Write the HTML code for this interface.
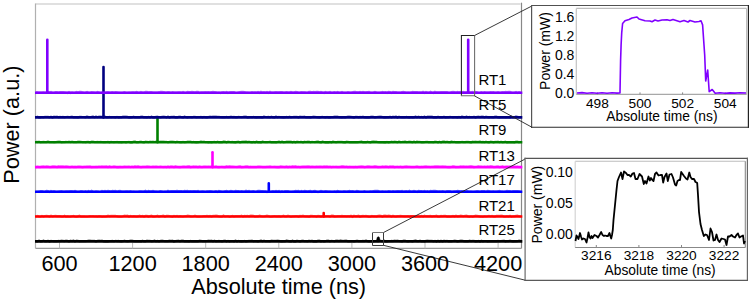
<!DOCTYPE html>
<html><head><meta charset="utf-8"><title>Power traces</title>
<style>
html,body{margin:0;padding:0;background:#fff;}
body{width:749px;height:300px;overflow:hidden;}
svg{display:block;font-family:"Liberation Sans", sans-serif;}
svg text{font-family:"Liberation Sans", sans-serif;fill:#000;}
</style></head><body>
<svg width="749" height="300" viewBox="0 0 749 300">
<rect width="749" height="300" fill="#fff"/>
<line x1="35.5" y1="4.0" x2="520.5" y2="4.0" stroke="#d6d6d6" stroke-width="1.6"/>
<line x1="35.5" y1="3.5" x2="35.5" y2="248.4" stroke="#b0b0b0" stroke-width="1.2"/>
<line x1="521.5" y1="2.7" x2="521.5" y2="248.4" stroke="#888" stroke-width="1.2"/>
<line x1="35.5" y1="248.4" x2="521.5" y2="248.4" stroke="#999" stroke-width="1.1"/>
<line x1="59.5" y1="242.5" x2="59.5" y2="248.4" stroke="#bbb" stroke-width="1"/>
<line x1="132.6" y1="242.5" x2="132.6" y2="248.4" stroke="#bbb" stroke-width="1"/>
<line x1="205.7" y1="242.5" x2="205.7" y2="248.4" stroke="#bbb" stroke-width="1"/>
<line x1="278.8" y1="242.5" x2="278.8" y2="248.4" stroke="#bbb" stroke-width="1"/>
<line x1="351.9" y1="242.5" x2="351.9" y2="248.4" stroke="#bbb" stroke-width="1"/>
<line x1="425" y1="242.5" x2="425" y2="248.4" stroke="#bbb" stroke-width="1"/>
<line x1="498.1" y1="242.5" x2="498.1" y2="248.4" stroke="#bbb" stroke-width="1"/>
<path d="M35,241.4 H522.3" stroke="#000000" stroke-width="2.6" fill="none"/>
<polyline points="36,241.35 37.5,241.58 39,240.52 40.5,241.63 42,241.49 43.5,240.57 45,241.47 46.5,241.47 48,240.73 49.5,241.67 51,240.94 52.5,241.04 54,241.28 55.5,241.33 57,241.4 58.5,240.83 60,241.08 61.5,240.66 63,240.83 64.5,241.09 66,240.59 67.5,240.92 69,241.48 70.5,240.71 72,241.02 73.5,240.54 75,241.39 76.5,240.62 78,240.72 79.5,241.39 81,241.03 82.5,241.16 84,241.23 85.5,241.1 87,241.01 88.5,240.68 90,240.67 91.5,240.74 93,240.79 94.5,240.89 96,241.57 97.5,240.76 99,240.66 100.5,240.82 102,240.66 103.5,241.49 105,241.64 106.5,241.42 108,241.64 109.5,241.16 111,241.04 112.5,240.96 114,241.28 115.5,240.79 117,241.13 118.5,240.97 120,241.3 121.5,241.55 123,241.29 124.5,240.67 126,241.21 127.5,241.38 129,241.15 130.5,240.58 132,240.61 133.5,241.15 135,241.36 136.5,241.09 138,241.37 139.5,241.16 141,241.49 142.5,240.76 144,241.5 145.5,241.4 147,240.64 148.5,240.77 150,240.85 151.5,241.44 153,241.27 154.5,240.58 156,241.38 157.5,240.87 159,241.54 160.5,240.83 162,240.62 163.5,240.9 165,241.05 166.5,241.02 168,241.14 169.5,240.63 171,240.83 172.5,240.55 174,241.68 175.5,241.08 177,240.84 178.5,240.7 180,241.23 181.5,240.51 183,240.69 184.5,241.3 186,241.13 187.5,241.35 189,241.52 190.5,240.89 192,241.42 193.5,241.47 195,241.49 196.5,241.14 198,241.42 199.5,240.54 201,240.73 202.5,241.19 204,241.17 205.5,241.23 207,241 208.5,240.56 210,240.88 211.5,240.74 213,241.3 214.5,240.78 216,241.41 217.5,241.14 219,240.97 220.5,241.24 222,241.57 223.5,240.9 225,240.57 226.5,241.53 228,240.85 229.5,241.57 231,241.07 232.5,240.99 234,241.51 235.5,240.64 237,241.54 238.5,240.83 240,241.43 241.5,241.65 243,241.51 244.5,240.9 246,241.66 247.5,241.13 249,240.86 250.5,240.94 252,240.6 253.5,241.26 255,241.03 256.5,241.18 258,241.56 259.5,241.04 261,240.53 262.5,241.22 264,240.6 265.5,241.22 267,241.15 268.5,241.04 270,241.29 271.5,240.61 273,240.93 274.5,240.75 276,240.76 277.5,240.64 279,240.77 280.5,241.53 282,241.67 283.5,241.24 285,241.43 286.5,240.52 288,240.91 289.5,241.37 291,241.59 292.5,240.56 294,241.69 295.5,241.67 297,240.61 298.5,240.98 300,241.6 301.5,240.91 303,240.7 304.5,241.2 306,241.25 307.5,241.43 309,240.77 310.5,241.1 312,240.73 313.5,241.63 315,241.59 316.5,241.64 318,240.66 319.5,240.71 321,241.48 322.5,241.06 324,241.52 325.5,241.27 327,240.54 328.5,240.64 330,241.37 331.5,240.83 333,240.98 334.5,241.24 336,240.56 337.5,240.62 339,241.09 340.5,240.52 342,240.91 343.5,240.97 345,240.62 346.5,240.6 348,241.42 349.5,241.32 351,241.09 352.5,241.04 354,241.6 355.5,241.06 357,240.71 358.5,241.11 360,241.09 361.5,241.16 363,240.92 364.5,241.1 366,240.55 367.5,241.31 369,241.57 370.5,241.38 372,241.51 373.5,241.67 375,241.09 376.5,241.01 378,241.39 379.5,240.76 381,240.87 382.5,241.22 384,240.54 385.5,241.67 387,241.62 388.5,241.11 390,241.25 391.5,240.91 393,241.05 394.5,240.61 396,240.92 397.5,240.73 399,240.98 400.5,241.29 402,241.53 403.5,240.6 405,240.66 406.5,241.25 408,241.63 409.5,241.17 411,241.12 412.5,241.53 414,240.75 415.5,240.5 417,241.11 418.5,241.21 420,240.65 421.5,241.32 423,241.24 424.5,241.5 426,240.9 427.5,240.58 429,240.77 430.5,240.78 432,240.9 433.5,241.28 435,240.83 436.5,241.68 438,240.7 439.5,241.55 441,240.79 442.5,241.61 444,240.77 445.5,241.16 447,240.8 448.5,241.36 450,241.23 451.5,241.38 453,240.98 454.5,240.69 456,240.89 457.5,241.53 459,241.1 460.5,240.71 462,240.59 463.5,241.13 465,241.5 466.5,241.31 468,241.44 469.5,240.58 471,241.03 472.5,240.86 474,240.78 475.5,241.63 477,241.53 478.5,240.92 480,241.69 481.5,240.75 483,241.5 484.5,241.05 486,241.02 487.5,241.69 489,241.45 490.5,241.33 492,241.29 493.5,241.27 495,241.49 496.5,241.34 498,240.92 499.5,241.22 501,241.01 502.5,240.74 504,240.6 505.5,241.6 507,241 508.5,241.12 510,240.69 511.5,241.15 513,241.57 514.5,241.34 516,241.29 517.5,241.18 519,240.51 520.5,240.51" stroke="#000000" stroke-width="2.2" fill="none" opacity="0.55"/>
<path d="M35,216.5 H522.3" stroke="#ff0000" stroke-width="2.6" fill="none"/>
<polyline points="36,216.65 37.5,216.02 39,216.55 40.5,216.74 42,215.97 43.5,216.52 45,216 46.5,215.8 48,216.02 49.5,216.5 51,215.78 52.5,216.39 54,216.02 55.5,215.8 57,216.12 58.5,216.06 60,216.15 61.5,216.66 63,216.7 64.5,215.87 66,216.79 67.5,216.33 69,216.75 70.5,216.58 72,216.23 73.5,215.9 75,216.72 76.5,216.8 78,216.35 79.5,215.74 81,216.59 82.5,216.52 84,216.66 85.5,216.77 87,216.77 88.5,216.48 90,216.07 91.5,216.24 93,216.21 94.5,216.51 96,216.35 97.5,216.59 99,216.22 100.5,216.31 102,216.76 103.5,216.55 105,216.72 106.5,216.44 108,215.75 109.5,216.1 111,215.95 112.5,215.92 114,215.75 115.5,215.73 117,216.18 118.5,216.54 120,216.64 121.5,216.76 123,216.3 124.5,215.62 126,215.83 127.5,215.67 129,216.64 130.5,215.98 132,216.47 133.5,216.14 135,216.3 136.5,216.62 138,216.39 139.5,215.69 141,216.36 142.5,216.03 144,216.77 145.5,215.92 147,215.89 148.5,216.71 150,216.1 151.5,215.7 153,216.56 154.5,216.7 156,216.19 157.5,215.8 159,216.64 160.5,216.01 162,215.89 163.5,215.65 165,216.66 166.5,215.88 168,215.74 169.5,216.04 171,216.44 172.5,216.8 174,215.85 175.5,216.34 177,215.92 178.5,216.63 180,216.18 181.5,216.42 183,216.61 184.5,216.24 186,216.17 187.5,215.61 189,215.8 190.5,216.43 192,216.51 193.5,216.29 195,215.66 196.5,216.5 198,216.62 199.5,216.63 201,216.5 202.5,216.4 204,216.02 205.5,216.03 207,215.83 208.5,216.37 210,216.01 211.5,216.57 213,215.88 214.5,215.92 216,215.7 217.5,215.94 219,216.53 220.5,216.59 222,216.7 223.5,215.64 225,216.42 226.5,216.27 228,216.02 229.5,216.73 231,216.42 232.5,215.98 234,216.6 235.5,216.13 237,216.16 238.5,216.17 240,216.17 241.5,215.63 243,216.58 244.5,215.96 246,216.14 247.5,215.81 249,216.28 250.5,215.68 252,215.64 253.5,215.85 255,216.65 256.5,216.42 258,216.47 259.5,215.71 261,216.14 262.5,216.48 264,216.49 265.5,216.14 267,215.69 268.5,216.06 270,216.74 271.5,216.67 273,216.34 274.5,216.02 276,216.32 277.5,216.29 279,216.15 280.5,216.62 282,216.28 283.5,215.72 285,216.48 286.5,216.44 288,215.72 289.5,216.23 291,216.77 292.5,216.38 294,216.41 295.5,216.17 297,216.11 298.5,216.78 300,215.94 301.5,216.16 303,215.71 304.5,216.22 306,216.4 307.5,216.43 309,216.77 310.5,215.92 312,215.85 313.5,216.03 315,216 316.5,216.7 318,215.85 319.5,216.17 321,216.8 322.5,216.09 324,216.15 325.5,216.1 327,215.99 328.5,215.98 330,216.6 331.5,215.62 333,215.68 334.5,216.57 336,216.47 337.5,216.11 339,216.18 340.5,216.17 342,215.91 343.5,216.12 345,216.03 346.5,216.31 348,216 349.5,216.31 351,215.65 352.5,216.79 354,215.62 355.5,216.17 357,216.05 358.5,215.76 360,216.77 361.5,216.14 363,215.82 364.5,215.99 366,215.83 367.5,216.25 369,216.8 370.5,216.76 372,215.88 373.5,216.45 375,216.28 376.5,216.52 378,215.79 379.5,215.65 381,215.75 382.5,216.69 384,215.66 385.5,215.65 387,216.16 388.5,215.67 390,215.81 391.5,216.74 393,215.82 394.5,216.51 396,216.61 397.5,216.15 399,216.13 400.5,215.85 402,215.99 403.5,216.24 405,216.28 406.5,216.24 408,216.04 409.5,216.66 411,216.15 412.5,216.06 414,216.17 415.5,216.61 417,216.32 418.5,216.49 420,216.59 421.5,216.03 423,216.47 424.5,215.72 426,216.18 427.5,216.15 429,216.07 430.5,215.8 432,216.56 433.5,216.01 435,216.07 436.5,215.74 438,216.64 439.5,216.64 441,215.82 442.5,216.07 444,215.94 445.5,215.83 447,216.6 448.5,216.34 450,216.69 451.5,216.43 453,216 454.5,216.54 456,215.73 457.5,216.31 459,216.22 460.5,215.69 462,215.94 463.5,216.22 465,215.75 466.5,215.7 468,216.34 469.5,216.77 471,216.3 472.5,216.8 474,216.18 475.5,215.72 477,215.8 478.5,216.15 480,216.65 481.5,216.58 483,216.77 484.5,216.31 486,216.51 487.5,216.26 489,215.8 490.5,216.25 492,215.93 493.5,216.57 495,216.58 496.5,215.87 498,215.76 499.5,215.95 501,215.62 502.5,215.83 504,216.75 505.5,216.71 507,216.12 508.5,216.66 510,215.83 511.5,216.8 513,216.28 514.5,216.34 516,215.93 517.5,215.61 519,216.25 520.5,216.35" stroke="#ff0000" stroke-width="2.2" fill="none" opacity="0.55"/>
<line x1="323.7" y1="216.5" x2="323.7" y2="213" stroke="#ff0000" stroke-width="2.6" stroke-linecap="round"/>
<path d="M35,191.7 H522.3" stroke="#0000ff" stroke-width="2.6" fill="none"/>
<polyline points="36,191.95 37.5,191.85 39,191.68 40.5,191.07 42,191.2 43.5,191.66 45,191.77 46.5,190.82 48,191 49.5,191.87 51,190.94 52.5,191.59 54,191.2 55.5,191.57 57,191.83 58.5,191.5 60,191.27 61.5,191.19 63,191.55 64.5,191.55 66,191.29 67.5,191.36 69,191.44 70.5,191.11 72,191.02 73.5,191.48 75,190.92 76.5,191.52 78,191.76 79.5,191.79 81,191.1 82.5,191.3 84,191.91 85.5,191.22 87,191.99 88.5,191.04 90,191.81 91.5,190.85 93,191.6 94.5,191.77 96,191.46 97.5,191.56 99,191.9 100.5,192 102,191.02 103.5,191.43 105,190.85 106.5,191.25 108,190.97 109.5,190.99 111,191.55 112.5,190.9 114,190.98 115.5,190.81 117,191.78 118.5,191.09 120,190.89 121.5,191.55 123,191.66 124.5,191.56 126,191.46 127.5,191.44 129,191.66 130.5,191.17 132,191.81 133.5,191.63 135,191.83 136.5,191.87 138,191.81 139.5,191.42 141,191.43 142.5,191.68 144,191.49 145.5,190.83 147,191.9 148.5,191.04 150,191.38 151.5,191.34 153,190.91 154.5,191.49 156,191.51 157.5,191.78 159,191.53 160.5,191.17 162,191.48 163.5,191.95 165,191.56 166.5,191.81 168,190.81 169.5,191.63 171,191.05 172.5,191 174,191.2 175.5,191.01 177,190.9 178.5,191.05 180,191.08 181.5,191.1 183,191.76 184.5,190.9 186,191.04 187.5,190.87 189,191.41 190.5,191.07 192,191.44 193.5,191.09 195,191.04 196.5,191.39 198,190.89 199.5,191.86 201,191.48 202.5,191.27 204,191.46 205.5,191.94 207,191.39 208.5,191.27 210,191.06 211.5,191.26 213,191.73 214.5,191.54 216,191.13 217.5,191.88 219,190.96 220.5,191.23 222,191.73 223.5,191.9 225,191.35 226.5,190.81 228,191.47 229.5,191.31 231,190.84 232.5,191.22 234,191.86 235.5,190.84 237,191.01 238.5,191 240,191.76 241.5,191.17 243,191.62 244.5,191.61 246,190.81 247.5,191.33 249,190.94 250.5,191.76 252,191.39 253.5,191.24 255,191.77 256.5,191.79 258,190.88 259.5,190.91 261,191.19 262.5,191.18 264,191.33 265.5,191.31 267,191.97 268.5,191.61 270,191.95 271.5,191.54 273,191.08 274.5,191.48 276,190.99 277.5,191.5 279,190.97 280.5,191.92 282,191.16 283.5,191.87 285,191.06 286.5,191.05 288,191.1 289.5,191.79 291,191.79 292.5,191.69 294,191.49 295.5,190.97 297,191.09 298.5,190.84 300,191.92 301.5,190.95 303,191.66 304.5,190.8 306,191.14 307.5,191.52 309,191.02 310.5,190.88 312,191.88 313.5,191.14 315,190.81 316.5,191.65 318,191.99 319.5,191.45 321,190.84 322.5,191.3 324,191.53 325.5,191.09 327,191.3 328.5,191.69 330,191.59 331.5,191.8 333,191.94 334.5,191.42 336,191.98 337.5,190.94 339,191.42 340.5,191.61 342,191.91 343.5,191.36 345,191.32 346.5,191.87 348,191.36 349.5,190.87 351,191.34 352.5,191.12 354,191.59 355.5,191.78 357,190.86 358.5,191.18 360,191.88 361.5,191.77 363,191.74 364.5,191.27 366,191.95 367.5,191.82 369,191.78 370.5,191.45 372,191.57 373.5,190.96 375,190.84 376.5,190.82 378,190.86 379.5,191.41 381,191.93 382.5,191.49 384,191.75 385.5,191.71 387,191.93 388.5,191.13 390,191.4 391.5,191.91 393,191.2 394.5,191.64 396,191.3 397.5,190.98 399,191.04 400.5,191.23 402,190.83 403.5,191.86 405,191.23 406.5,191.09 408,191.76 409.5,190.81 411,191.71 412.5,191.34 414,190.91 415.5,191.28 417,191.98 418.5,190.85 420,191.14 421.5,191.01 423,191.51 424.5,191.04 426,191.82 427.5,191.24 429,191.94 430.5,190.95 432,191.08 433.5,190.83 435,190.85 436.5,191.02 438,191.51 439.5,191.46 441,191.67 442.5,191.08 444,191.52 445.5,191.98 447,191.19 448.5,191.08 450,191.02 451.5,191.96 453,191.56 454.5,191.39 456,191.39 457.5,190.9 459,191.07 460.5,191.64 462,191.1 463.5,191.42 465,191.89 466.5,191.02 468,191.37 469.5,191.71 471,191.69 472.5,191.79 474,191.89 475.5,191.49 477,191.07 478.5,191.41 480,191.91 481.5,191.04 483,191.15 484.5,191.04 486,191.85 487.5,190.92 489,190.98 490.5,191.53 492,191.67 493.5,191.31 495,191.7 496.5,191.65 498,191.27 499.5,190.89 501,191.63 502.5,191.54 504,191.95 505.5,191.64 507,190.88 508.5,191.03 510,191.17 511.5,191.67 513,191.17 514.5,191.08 516,191.02 517.5,191.13 519,191.4 520.5,191.65" stroke="#0000ff" stroke-width="2.2" fill="none" opacity="0.55"/>
<line x1="268.8" y1="191.7" x2="268.8" y2="183.4" stroke="#0000ff" stroke-width="2.6" stroke-linecap="round"/>
<path d="M35,167.1 H522.3" stroke="#ff00ff" stroke-width="2.6" fill="none"/>
<polyline points="36,167.37 37.5,166.75 39,167.06 40.5,167.08 42,166.46 43.5,166.29 45,166.92 46.5,166.35 48,166.66 49.5,167.27 51,167.25 52.5,166.34 54,166.3 55.5,166.47 57,167.19 58.5,166.23 60,166.47 61.5,166.33 63,166.35 64.5,166.83 66,166.42 67.5,166.69 69,167.08 70.5,167.07 72,166.7 73.5,167.14 75,166.89 76.5,167.19 78,166.5 79.5,166.64 81,166.9 82.5,167.34 84,166.94 85.5,166.77 87,166.5 88.5,166.54 90,166.46 91.5,167.38 93,167.26 94.5,167.27 96,166.83 97.5,167.05 99,166.56 100.5,166.78 102,166.37 103.5,166.7 105,166.5 106.5,166.32 108,167.3 109.5,166.32 111,167.18 112.5,167.04 114,166.31 115.5,166.78 117,167.4 118.5,167.38 120,166.88 121.5,167.13 123,167.05 124.5,166.55 126,166.86 127.5,166.92 129,166.67 130.5,167.18 132,166.73 133.5,167.1 135,166.28 136.5,166.73 138,166.25 139.5,166.98 141,167.25 142.5,166.85 144,166.88 145.5,166.95 147,166.47 148.5,166.66 150,166.89 151.5,166.98 153,166.66 154.5,166.77 156,166.6 157.5,166.87 159,167.01 160.5,166.59 162,167.02 163.5,167.22 165,166.84 166.5,167.38 168,166.57 169.5,167.3 171,166.42 172.5,166.64 174,167.18 175.5,166.24 177,166.94 178.5,167.25 180,167.33 181.5,167.02 183,166.61 184.5,166.6 186,166.96 187.5,166.28 189,166.23 190.5,167.26 192,166.95 193.5,166.4 195,166.71 196.5,166.55 198,167.24 199.5,166.54 201,167.07 202.5,167.09 204,166.58 205.5,166.5 207,166.83 208.5,166.68 210,166.91 211.5,166.59 213,167.15 214.5,166.7 216,166.36 217.5,167.13 219,167.27 220.5,167.02 222,166.86 223.5,167.25 225,167.32 226.5,166.21 228,166.79 229.5,166.22 231,166.6 232.5,166.49 234,166.75 235.5,167.01 237,167.23 238.5,166.51 240,166.21 241.5,167.4 243,167.14 244.5,166.86 246,166.33 247.5,166.26 249,167.32 250.5,166.84 252,167.23 253.5,167.14 255,167.1 256.5,167.17 258,166.5 259.5,166.5 261,166.72 262.5,167.12 264,167.15 265.5,167.11 267,166.9 268.5,166.77 270,166.43 271.5,167 273,166.98 274.5,166.82 276,167.07 277.5,167.38 279,167.33 280.5,166.33 282,166.54 283.5,166.94 285,167.03 286.5,166.54 288,167.32 289.5,166.75 291,167.12 292.5,166.26 294,166.53 295.5,166.23 297,167.15 298.5,166.83 300,167.34 301.5,166.93 303,166.59 304.5,166.63 306,166.65 307.5,166.44 309,166.33 310.5,166.98 312,166.58 313.5,166.74 315,167.05 316.5,166.53 318,166.73 319.5,166.59 321,166.59 322.5,167 324,166.32 325.5,166.68 327,166.33 328.5,167 330,166.56 331.5,167.36 333,166.78 334.5,166.99 336,166.83 337.5,167.18 339,167.04 340.5,166.97 342,166.24 343.5,166.37 345,167.1 346.5,166.69 348,167.37 349.5,166.96 351,167.19 352.5,167.09 354,167.36 355.5,166.99 357,167.33 358.5,166.71 360,166.52 361.5,166.33 363,166.5 364.5,167.27 366,166.99 367.5,166.25 369,166.23 370.5,166.75 372,166.85 373.5,166.63 375,166.22 376.5,166.51 378,167.25 379.5,167.07 381,167.18 382.5,166.52 384,167 385.5,166.44 387,166.56 388.5,167.35 390,166.46 391.5,166.55 393,166.46 394.5,167.24 396,167.02 397.5,166.91 399,167.22 400.5,166.76 402,167.3 403.5,167.13 405,166.56 406.5,166.48 408,166.84 409.5,166.74 411,167.15 412.5,166.98 414,167.09 415.5,166.92 417,166.52 418.5,167.09 420,167.38 421.5,166.96 423,167.05 424.5,166.48 426,166.34 427.5,166.74 429,166.91 430.5,167.07 432,166.77 433.5,166.85 435,166.31 436.5,166.26 438,166.35 439.5,166.58 441,166.49 442.5,166.37 444,166.61 445.5,166.6 447,167.19 448.5,167.32 450,167.39 451.5,167.08 453,166.21 454.5,166.49 456,167.4 457.5,167.04 459,167.23 460.5,166.44 462,166.49 463.5,166.32 465,166.83 466.5,166.64 468,166.76 469.5,166.37 471,166.23 472.5,166.66 474,167.31 475.5,166.98 477,166.89 478.5,166.28 480,166.72 481.5,166.64 483,166.96 484.5,166.68 486,167.16 487.5,166.53 489,167.07 490.5,166.21 492,166.38 493.5,167.16 495,167.22 496.5,166.56 498,166.44 499.5,167.35 501,166.91 502.5,166.31 504,167.39 505.5,166.88 507,166.56 508.5,166.81 510,166.64 511.5,166.89 513,166.7 514.5,166.65 516,167.08 517.5,166.57 519,167.2 520.5,167.1" stroke="#ff00ff" stroke-width="2.2" fill="none" opacity="0.55"/>
<line x1="212.5" y1="167.1" x2="212.5" y2="152.2" stroke="#ff00ff" stroke-width="2.6" stroke-linecap="round"/>
<path d="M35,142.3 H522.3" stroke="#008000" stroke-width="2.6" fill="none"/>
<polyline points="36,141.58 37.5,142.14 39,141.6 40.5,142.26 42,142.13 43.5,141.86 45,142.14 46.5,142.08 48,141.45 49.5,142.04 51,142.14 52.5,142.02 54,142.46 55.5,142.28 57,141.85 58.5,141.67 60,141.55 61.5,142.37 63,142.23 64.5,142.13 66,141.93 67.5,142 69,141.67 70.5,142.04 72,141.57 73.5,142.15 75,142.16 76.5,142.2 78,141.7 79.5,141.51 81,141.8 82.5,142.23 84,142.01 85.5,142.3 87,141.92 88.5,141.88 90,142.49 91.5,141.6 93,141.65 94.5,142.11 96,142.16 97.5,141.92 99,142.07 100.5,141.93 102,142.2 103.5,142.47 105,142.39 106.5,142.17 108,141.96 109.5,142.54 111,141.94 112.5,142.15 114,142.44 115.5,142.22 117,141.87 118.5,142.29 120,142.12 121.5,142.5 123,142.15 124.5,142.04 126,142.57 127.5,142.03 129,141.88 130.5,142.53 132,142.53 133.5,141.61 135,141.49 136.5,142.43 138,142.46 139.5,141.86 141,141.71 142.5,142.22 144,142.53 145.5,141.66 147,141.94 148.5,142.2 150,141.66 151.5,141.9 153,141.57 154.5,141.98 156,141.68 157.5,141.5 159,141.87 160.5,141.58 162,141.54 163.5,141.58 165,141.9 166.5,141.78 168,142.27 169.5,141.9 171,141.69 172.5,141.63 174,141.76 175.5,142.29 177,141.64 178.5,141.96 180,142.37 181.5,142.4 183,141.95 184.5,142.41 186,142.17 187.5,141.67 189,141.51 190.5,141.6 192,142.35 193.5,141.87 195,142.4 196.5,142.56 198,142.5 199.5,141.96 201,141.41 202.5,141.73 204,141.66 205.5,142.18 207,142.24 208.5,142.51 210,142.25 211.5,142.55 213,142.17 214.5,141.97 216,142.4 217.5,141.73 219,142.33 220.5,142.27 222,142.44 223.5,141.47 225,141.63 226.5,142.54 228,141.57 229.5,141.94 231,142.12 232.5,141.98 234,142.46 235.5,142.55 237,141.81 238.5,141.56 240,142.5 241.5,141.94 243,141.7 244.5,141.57 246,141.41 247.5,142.1 249,141.74 250.5,142.07 252,142.51 253.5,141.98 255,142.54 256.5,141.48 258,142.31 259.5,142.31 261,142.55 262.5,141.44 264,142.01 265.5,142.07 267,142.12 268.5,141.97 270,141.73 271.5,142.48 273,142.45 274.5,142.24 276,142.55 277.5,142.06 279,141.5 280.5,142.23 282,141.53 283.5,142.3 285,142.18 286.5,141.65 288,141.58 289.5,141.48 291,141.61 292.5,142.57 294,141.67 295.5,142.46 297,141.56 298.5,141.81 300,141.97 301.5,141.83 303,142.56 304.5,141.69 306,141.98 307.5,141.65 309,141.53 310.5,142.23 312,141.81 313.5,141.98 315,142.23 316.5,141.51 318,141.47 319.5,142.23 321,142.59 322.5,141.42 324,141.94 325.5,142.59 327,142.4 328.5,142.59 330,142.04 331.5,142.57 333,141.47 334.5,141.97 336,142.42 337.5,141.87 339,141.93 340.5,141.94 342,141.86 343.5,142.38 345,142.57 346.5,141.68 348,141.79 349.5,142.36 351,142.29 352.5,142.38 354,142.22 355.5,142.5 357,142.41 358.5,142.16 360,141.74 361.5,141.5 363,142.43 364.5,142.43 366,142.47 367.5,141.72 369,142.29 370.5,142.52 372,141.65 373.5,141.43 375,141.61 376.5,141.66 378,142.22 379.5,142.39 381,142.38 382.5,142.23 384,142.57 385.5,142.57 387,141.93 388.5,142.51 390,142.26 391.5,141.69 393,142.1 394.5,141.6 396,141.88 397.5,142.38 399,141.41 400.5,142.04 402,141.92 403.5,141.74 405,141.48 406.5,142.03 408,141.8 409.5,141.52 411,141.88 412.5,142.22 414,141.5 415.5,142.34 417,141.5 418.5,141.96 420,141.84 421.5,142.43 423,142.47 424.5,142.28 426,141.75 427.5,141.79 429,142.39 430.5,142.01 432,142.16 433.5,142.27 435,141.63 436.5,141.86 438,142.55 439.5,141.8 441,142.42 442.5,141.59 444,141.42 445.5,142 447,141.74 448.5,142.11 450,142.32 451.5,141.45 453,142 454.5,141.85 456,142.49 457.5,142.41 459,142.46 460.5,142.29 462,141.82 463.5,142.14 465,142.05 466.5,141.84 468,141.75 469.5,142.18 471,142.48 472.5,141.69 474,141.83 475.5,141.59 477,141.84 478.5,141.87 480,141.51 481.5,142.17 483,141.81 484.5,142.37 486,141.69 487.5,142.28 489,142.58 490.5,141.6 492,141.84 493.5,142.57 495,141.88 496.5,141.79 498,141.58 499.5,142.4 501,141.79 502.5,142.46 504,142.07 505.5,141.62 507,142.59 508.5,142.48 510,142.3 511.5,142.12 513,142.3 514.5,142.54 516,141.64 517.5,141.69 519,142.31 520.5,141.9" stroke="#008000" stroke-width="2.2" fill="none" opacity="0.55"/>
<line x1="157.5" y1="142.3" x2="157.5" y2="118.5" stroke="#008000" stroke-width="2.6" stroke-linecap="round"/>
<path d="M35,117.4 H522.3" stroke="#000080" stroke-width="2.6" fill="none"/>
<polyline points="36,117.2 37.5,116.73 39,117.66 40.5,117.61 42,117.06 43.5,117.3 45,116.76 46.5,116.77 48,116.85 49.5,117.33 51,116.75 52.5,117.67 54,116.58 55.5,116.73 57,116.61 58.5,117.42 60,116.94 61.5,117.07 63,116.89 64.5,117.26 66,116.98 67.5,116.75 69,117.02 70.5,116.87 72,116.63 73.5,117.49 75,117.32 76.5,117.3 78,117.56 79.5,116.97 81,116.96 82.5,117.01 84,116.99 85.5,117.3 87,116.51 88.5,117.06 90,117.14 91.5,116.91 93,116.53 94.5,117.35 96,116.51 97.5,117.18 99,116.68 100.5,116.54 102,116.72 103.5,116.58 105,116.68 106.5,117.32 108,117.37 109.5,116.94 111,117.28 112.5,117.07 114,117.1 115.5,117.55 117,116.87 118.5,117.54 120,117.33 121.5,117.32 123,116.51 124.5,116.6 126,116.54 127.5,116.91 129,117.64 130.5,117.55 132,117.51 133.5,116.64 135,117.35 136.5,117.43 138,117.47 139.5,117.45 141,116.67 142.5,116.71 144,117.45 145.5,117.39 147,117.57 148.5,117.04 150,117.57 151.5,116.67 153,117.65 154.5,117.56 156,116.91 157.5,116.58 159,117.16 160.5,117.33 162,116.92 163.5,116.57 165,116.83 166.5,117.49 168,116.61 169.5,117.62 171,116.8 172.5,116.75 174,116.63 175.5,117.68 177,117.58 178.5,116.88 180,116.61 181.5,117.28 183,117.57 184.5,116.51 186,117.26 187.5,117.53 189,117.05 190.5,117.18 192,117.47 193.5,116.79 195,116.83 196.5,117.29 198,117.16 199.5,117.14 201,116.9 202.5,117.62 204,116.85 205.5,117.31 207,117.57 208.5,116.98 210,116.57 211.5,116.76 213,116.58 214.5,116.68 216,116.64 217.5,116.91 219,116.94 220.5,117.04 222,117.3 223.5,117.31 225,117.32 226.5,116.94 228,117.3 229.5,117.16 231,116.65 232.5,117.16 234,116.88 235.5,117.31 237,117.38 238.5,116.79 240,117.02 241.5,117.05 243,116.86 244.5,116.55 246,116.56 247.5,117.69 249,117.39 250.5,117.03 252,117.3 253.5,116.82 255,117.35 256.5,117.64 258,117.43 259.5,117.06 261,117.68 262.5,117.61 264,116.57 265.5,116.99 267,117.04 268.5,116.83 270,117.24 271.5,116.67 273,117.4 274.5,117.53 276,116.57 277.5,117.33 279,116.82 280.5,117.27 282,117.33 283.5,117.67 285,117.46 286.5,116.91 288,117.38 289.5,116.68 291,117.36 292.5,117 294,116.82 295.5,116.79 297,116.76 298.5,117.46 300,116.62 301.5,116.78 303,116.73 304.5,116.69 306,117.38 307.5,117.2 309,117.3 310.5,117.58 312,117.04 313.5,116.55 315,116.73 316.5,117.12 318,117.36 319.5,117.6 321,117.11 322.5,116.77 324,117.21 325.5,117.62 327,116.9 328.5,117.62 330,117.58 331.5,117.19 333,117.08 334.5,116.65 336,116.63 337.5,116.55 339,117.23 340.5,117.36 342,117.69 343.5,117.22 345,117.69 346.5,116.98 348,116.66 349.5,116.57 351,116.85 352.5,117.14 354,117.68 355.5,116.86 357,116.78 358.5,117.37 360,116.97 361.5,117.17 363,116.68 364.5,117.52 366,117.6 367.5,117.41 369,117.62 370.5,116.9 372,116.54 373.5,116.87 375,117.58 376.5,117.06 378,116.74 379.5,116.68 381,116.7 382.5,117.03 384,117.61 385.5,117.56 387,117.41 388.5,117.41 390,116.73 391.5,117.43 393,116.77 394.5,117.13 396,116.54 397.5,117.57 399,116.65 400.5,117.21 402,117.29 403.5,117.27 405,117.32 406.5,116.94 408,117.45 409.5,117.63 411,117.24 412.5,117.68 414,117.52 415.5,116.57 417,117.31 418.5,116.61 420,117.29 421.5,116.95 423,117.53 424.5,116.55 426,117.64 427.5,116.55 429,116.57 430.5,116.5 432,116.65 433.5,117.68 435,117.5 436.5,117.6 438,116.72 439.5,117.33 441,117.45 442.5,117.37 444,116.82 445.5,117.67 447,117.37 448.5,117.32 450,116.84 451.5,116.98 453,117.41 454.5,117.12 456,117.09 457.5,117.6 459,117 460.5,117.53 462,116.56 463.5,117.14 465,117.36 466.5,116.51 468,117.34 469.5,116.84 471,117.25 472.5,117.25 474,116.66 475.5,117.63 477,116.79 478.5,116.66 480,117.03 481.5,116.58 483,116.62 484.5,117.41 486,116.62 487.5,117.15 489,117.56 490.5,117.04 492,117.48 493.5,117.5 495,116.7 496.5,116.59 498,117.44 499.5,117.54 501,117.52 502.5,117.36 504,117.11 505.5,117.65 507,117.39 508.5,117.42 510,117.59 511.5,116.57 513,117.39 514.5,117.2 516,116.52 517.5,116.81 519,117.36 520.5,117.13" stroke="#000080" stroke-width="2.2" fill="none" opacity="0.55"/>
<line x1="103.5" y1="117.4" x2="103.5" y2="67.1" stroke="#000080" stroke-width="2.6" stroke-linecap="round"/>
<path d="M35,92.7 H522.3" stroke="#8000ff" stroke-width="2.6" fill="none"/>
<polyline points="36,91.97 37.5,92.35 39,92.72 40.5,92.65 42,92.68 43.5,92.32 45,92.76 46.5,92.44 48,91.9 49.5,92.35 51,91.86 52.5,92.92 54,92.94 55.5,92.2 57,92.17 58.5,92.72 60,92.04 61.5,92.01 63,92.03 64.5,92.22 66,92.55 67.5,92.96 69,92.05 70.5,92.95 72,92.47 73.5,92.88 75,92.78 76.5,91.99 78,92.58 79.5,91.95 81,91.81 82.5,92.27 84,92.73 85.5,92.48 87,92.03 88.5,92.81 90,92.9 91.5,92.08 93,92.34 94.5,92.57 96,92.88 97.5,91.95 99,92.46 100.5,92.96 102,92.53 103.5,92.66 105,92.73 106.5,92.41 108,92.15 109.5,92.51 111,92.43 112.5,92.21 114,92.83 115.5,92.24 117,92.38 118.5,92.71 120,92.78 121.5,92.87 123,92.58 124.5,92.1 126,92.82 127.5,92.89 129,92.66 130.5,92.72 132,92.42 133.5,92.39 135,92.5 136.5,91.98 138,92.61 139.5,92.83 141,92 142.5,92.7 144,92.65 145.5,91.95 147,91.86 148.5,92.51 150,92.06 151.5,92.17 153,92.55 154.5,92.58 156,92.7 157.5,92.48 159,92.2 160.5,91.82 162,91.94 163.5,92.03 165,92.43 166.5,92.66 168,92.05 169.5,92.27 171,92.92 172.5,92.28 174,92.66 175.5,92.54 177,92.59 178.5,92.37 180,92.45 181.5,92.64 183,91.99 184.5,92.76 186,92.85 187.5,91.86 189,92.04 190.5,92.1 192,91.91 193.5,91.97 195,92.57 196.5,91.95 198,91.88 199.5,92.93 201,92.28 202.5,92.45 204,92.37 205.5,92.21 207,92.35 208.5,92.03 210,92.5 211.5,92.1 213,91.97 214.5,92.05 216,92.3 217.5,92.92 219,92.52 220.5,92.98 222,92.28 223.5,92.11 225,92.65 226.5,92.03 228,93 229.5,92.27 231,92.13 232.5,92.13 234,92.17 235.5,92.92 237,92.99 238.5,92.47 240,92.08 241.5,91.81 243,91.9 244.5,92.16 246,92.57 247.5,92.55 249,92.82 250.5,92.79 252,92.22 253.5,92.61 255,92.33 256.5,92.67 258,92.02 259.5,92.97 261,91.83 262.5,92.54 264,92.22 265.5,92.76 267,91.97 268.5,92.87 270,91.8 271.5,92.68 273,92.64 274.5,92.41 276,92.01 277.5,92.26 279,92.34 280.5,92.06 282,91.99 283.5,92.81 285,92.46 286.5,92.12 288,92.55 289.5,92.56 291,91.96 292.5,92.5 294,92.5 295.5,91.93 297,92.16 298.5,92.84 300,92.49 301.5,92.07 303,92.27 304.5,92.35 306,92.65 307.5,92.83 309,91.9 310.5,91.86 312,92.33 313.5,91.82 315,91.99 316.5,91.93 318,91.91 319.5,92.55 321,91.91 322.5,92.48 324,92.96 325.5,91.97 327,92.71 328.5,92.5 330,92 331.5,92.94 333,92.68 334.5,92.26 336,92.87 337.5,91.92 339,92.8 340.5,92.81 342,91.94 343.5,92.9 345,92.74 346.5,92.9 348,92.14 349.5,92.69 351,92.74 352.5,92.22 354,91.84 355.5,91.82 357,92.41 358.5,92.46 360,91.95 361.5,92.56 363,91.86 364.5,92.37 366,92.41 367.5,92.04 369,91.86 370.5,92.88 372,92.82 373.5,92.51 375,91.84 376.5,92.43 378,92.96 379.5,92.72 381,92.63 382.5,91.85 384,92.49 385.5,92.08 387,92.98 388.5,91.81 390,92.07 391.5,92.86 393,91.94 394.5,92.16 396,92.17 397.5,92.86 399,92.64 400.5,92.92 402,92.03 403.5,91.91 405,92.21 406.5,92.72 408,92.54 409.5,92.92 411,92.66 412.5,91.9 414,92.18 415.5,92.04 417,92.12 418.5,92.6 420,92.33 421.5,92.71 423,91.82 424.5,92.89 426,91.99 427.5,92.69 429,92.81 430.5,91.85 432,92.45 433.5,92.97 435,91.81 436.5,92.4 438,92.31 439.5,92.26 441,92.03 442.5,92.02 444,92.12 445.5,92.06 447,92.15 448.5,92.88 450,92.94 451.5,92.11 453,91.83 454.5,92.12 456,92.83 457.5,92.01 459,92.59 460.5,91.91 462,92.22 463.5,92 465,92.54 466.5,92.24 468,92.73 469.5,92.42 471,92.28 472.5,91.83 474,92.81 475.5,91.85 477,92.4 478.5,92.99 480,92.75 481.5,92.23 483,92.92 484.5,92.11 486,92.5 487.5,92.49 489,92.67 490.5,92.15 492,92.28 493.5,92.19 495,92.9 496.5,92.69 498,92.21 499.5,92.73 501,92.54 502.5,92.1 504,92.4 505.5,91.92 507,92.05 508.5,91.89 510,91.9 511.5,92.54 513,92.8 514.5,92.8 516,92.06 517.5,92.94 519,92.2 520.5,92.63" stroke="#8000ff" stroke-width="2.2" fill="none" opacity="0.55"/>
<line x1="47.3" y1="92.7" x2="47.3" y2="39.7" stroke="#8000ff" stroke-width="2.6" stroke-linecap="round"/>
<line x1="468.2" y1="92.7" x2="468.2" y2="39.7" stroke="#8000ff" stroke-width="2.6" stroke-linecap="round"/>
<path d="M375.5,241.4 C376.9,240.8 377.0,237.8 377.4,237.2 Q378.3,236.4 379.2,237.2 C379.6,237.8 379.7,240.8 381.1,241.4 Z" fill="#000" stroke="#000" stroke-width="0.6" stroke-linejoin="round"/>
<path d="M474.6,35.5 H461.4 V95.8" fill="none" stroke="#222" stroke-width="1.05"/>
<path d="M474.6,35 V95.8 H461" fill="none" stroke="#6a6a6a" stroke-width="1.05"/>
<path d="M372.5,232.5 V245.5 H383.5 V232.5" fill="none" stroke="#3a3a3a" stroke-width="1"/>
<path d="M373,232.5 H383" fill="none" stroke="#777" stroke-width="1"/>
<line x1="474.5" y1="35.5" x2="531.5" y2="6.2" stroke="#222" stroke-width="0.9"/>
<line x1="474.5" y1="95.9" x2="531.5" y2="127" stroke="#222" stroke-width="0.9"/>
<line x1="383.5" y1="232.5" x2="525.2" y2="159" stroke="#222" stroke-width="0.9"/>
<line x1="383.5" y1="245.3" x2="525.2" y2="280.2" stroke="#222" stroke-width="0.9"/>
<text x="59.5" y="271.2" font-size="21.7" text-anchor="middle">600</text>
<text x="132.6" y="271.2" font-size="21.7" text-anchor="middle">1200</text>
<text x="205.7" y="271.2" font-size="21.7" text-anchor="middle">1800</text>
<text x="278.8" y="271.2" font-size="21.7" text-anchor="middle">2400</text>
<text x="351.9" y="271.2" font-size="21.7" text-anchor="middle">3000</text>
<text x="425" y="271.2" font-size="21.7" text-anchor="middle">3600</text>
<text x="498.1" y="271.2" font-size="21.7" text-anchor="middle">4200</text>
<text x="278.7" y="293.6" font-size="21.7" text-anchor="middle">Absolute time (ns)</text>
<text transform="translate(18.8,124.6) rotate(-90)" font-size="21.7" text-anchor="middle">Power (a.u.)</text>
<text x="478.4" y="84.6" font-size="15">RT1</text>
<text x="478.4" y="110.2" font-size="15">RT5</text>
<text x="478.4" y="135" font-size="15">RT9</text>
<text x="478.4" y="160.6" font-size="15">RT13</text>
<text x="478.4" y="184.8" font-size="15">RT17</text>
<text x="478.4" y="210.6" font-size="15">RT21</text>
<text x="478.4" y="235.4" font-size="15">RT25</text>
<rect x="531.6" y="5.5" width="216.8" height="121.75" fill="#fff"/>
<line x1="531" y1="5.5" x2="749" y2="5.5" stroke="#505050" stroke-width="1.2"/>
<line x1="531.6" y1="5" x2="531.6" y2="127.8" stroke="#555" stroke-width="1.2"/>
<line x1="748.4" y1="5" x2="748.4" y2="127.8" stroke="#222" stroke-width="1.2"/>
<line x1="531" y1="127.25" x2="749" y2="127.25" stroke="#2a2a2a" stroke-width="1.2"/>
<line x1="576.3" y1="8.4" x2="746.6" y2="8.4" stroke="#bdbdbd" stroke-width="1.2"/>
<line x1="746.6" y1="8.4" x2="746.6" y2="94.4" stroke="#bdbdbd" stroke-width="1.2"/>
<line x1="576.3" y1="8.4" x2="576.3" y2="94.4" stroke="#c2c2c2" stroke-width="1.2"/>
<line x1="576.3" y1="94.4" x2="746.6" y2="94.4" stroke="#a8a8a8" stroke-width="1.3"/>
<line x1="597.4" y1="92.4" x2="597.4" y2="94.4" stroke="#888" stroke-width="1"/>
<text x="597.4" y="107.6" font-size="13.7" text-anchor="middle">498</text>
<line x1="640.0" y1="92.4" x2="640.0" y2="94.4" stroke="#888" stroke-width="1"/>
<text x="640.0" y="107.6" font-size="13.7" text-anchor="middle">500</text>
<line x1="682.6" y1="92.4" x2="682.6" y2="94.4" stroke="#888" stroke-width="1"/>
<text x="682.6" y="107.6" font-size="13.7" text-anchor="middle">502</text>
<line x1="725.2" y1="92.4" x2="725.2" y2="94.4" stroke="#888" stroke-width="1"/>
<text x="725.2" y="107.6" font-size="13.7" text-anchor="middle">504</text>
<text x="574.4" y="21.8" font-size="14" text-anchor="end">1.6</text>
<text x="574.4" y="40.85" font-size="14" text-anchor="end">1.2</text>
<text x="574.4" y="59.9" font-size="14" text-anchor="end">0.8</text>
<text x="574.4" y="78.95" font-size="14" text-anchor="end">0.4</text>
<text x="574.4" y="98" font-size="14" text-anchor="end">0.0</text>
<text x="661.9" y="120.8" font-size="13.8" text-anchor="middle">Absolute time (ns)</text>
<text transform="translate(549.9,51.0) rotate(-90)" font-size="14" text-anchor="middle">Power (mW)</text>
<polyline points="577,93 582,92.6 587,93.3 592,92.8 597,93.2 602,92.7 607,93.3 612,92.8 617,93.1 620,93 620.6,60 621.1,45 621.7,33 622.6,23.5 625,20.8 629,19.5 632,18 637,17 639,19 645,20.8 650,21 652,21.7 655,20 658,21 662,20 667,19.7 670,20.5 673,19.5 680,21.7 684,20.5 688,22 690,20.5 695,22 699,21.5 701,20.8 702.6,24.9 704,45 704.7,55 705.7,81 707.7,70 709.2,91.7 712.2,89.5 715.2,93.2 720,92.8 725,93.2 730,92.9 735,93.1 740,92.8 746,93" fill="none" stroke="#8000ff" stroke-width="1.6" stroke-linejoin="round"/>
<rect x="525.1" y="158.3" width="222.3" height="122.1" fill="#fff"/>
<line x1="524.5" y1="158.3" x2="748" y2="158.3" stroke="#555" stroke-width="1.2"/>
<line x1="525.1" y1="157.7" x2="525.1" y2="281" stroke="#6a6a6a" stroke-width="1.2"/>
<line x1="747.4" y1="157.7" x2="747.4" y2="281" stroke="#666" stroke-width="1.2"/>
<line x1="524.5" y1="280.4" x2="748" y2="280.4" stroke="#5a5a5a" stroke-width="1.2"/>
<line x1="575.2" y1="161.25" x2="745.3" y2="161.25" stroke="#bdbdbd" stroke-width="1.2"/>
<line x1="745.3" y1="161.25" x2="745.3" y2="247.4" stroke="#8a8a8a" stroke-width="1.1"/>
<line x1="575.2" y1="161.25" x2="575.2" y2="247.4" stroke="#d4d4d4" stroke-width="1.2"/>
<line x1="575.2" y1="247.4" x2="745.3" y2="247.4" stroke="#888" stroke-width="1.05"/>
<line x1="596.3" y1="245" x2="596.3" y2="247.4" stroke="#888" stroke-width="1"/>
<text x="596.3" y="260.1" font-size="13.7" text-anchor="middle">3216</text>
<line x1="638.9" y1="245" x2="638.9" y2="247.4" stroke="#888" stroke-width="1"/>
<text x="638.9" y="260.1" font-size="13.7" text-anchor="middle">3218</text>
<line x1="681.5" y1="245" x2="681.5" y2="247.4" stroke="#888" stroke-width="1"/>
<text x="681.5" y="260.1" font-size="13.7" text-anchor="middle">3220</text>
<line x1="724.1" y1="245" x2="724.1" y2="247.4" stroke="#888" stroke-width="1"/>
<text x="724.1" y="260.1" font-size="13.7" text-anchor="middle">3222</text>
<text x="572.9" y="177" font-size="14" text-anchor="end">0.10</text>
<text x="572.9" y="208" font-size="14" text-anchor="end">0.05</text>
<text x="572.9" y="239.1" font-size="14" text-anchor="end">0.00</text>
<text x="660.1" y="274.8" font-size="13.8" text-anchor="middle">Absolute time (ns)</text>
<text transform="translate(541.5,204.6) rotate(-90)" font-size="14" text-anchor="middle">Power (mW)</text>
<polyline points="575.5,241 576.5,235.5 577.5,237 578.5,239 580,233 581,236.5 582,239.5 583.5,238.5 585,239 586.5,242.5 587.5,238 588.5,232.5 589.5,237 590.5,238.5 591.5,236 592.5,238 593.5,236.5 594.5,235 595.5,235.5 596.5,236 598,237.5 599.5,235 601.2,232 602.5,235 604,236 605,235.5 606.5,236 608,236 609.5,233 610.5,236.5 611.2,238.5 612,235 612.8,230 613.5,220 615.5,200 616.5,190 617.5,181 619,177 621,172.5 622.5,179 624,171.5 626,173 627.5,175 629,175 630.8,176.5 632.5,173.5 634,173 635.5,179 637.5,179 639.5,174 642,176.5 643.8,184 645,181 646.5,183.5 648.5,176.5 649.8,180.5 651,178 652,179.5 653.5,181 655,174 656.5,172.5 658.5,175.5 660.5,175 662,175 663.2,182.5 664.5,177 666.5,173.5 667.8,181 669.5,174.5 671.5,174 673,177.5 675,184.5 676.2,185.5 677.5,181 679,180 680,180 681.2,172 684,176 686,178.5 687.5,179.5 689.3,172.5 690.5,177 692,179 694,179 695.5,182 696.5,182.5 697.2,183 698,195 699,212 700.5,224 702,230 703.8,236 705.5,234.5 707,235 709,240 710.5,228.5 712,232 713.5,240.5 715,240 716.5,234.5 718,240 719.5,242 721.5,238.5 723.5,239 725,239.5 726.5,245 728,236.5 729.5,236.5 731.5,235 733,236.5 735,237.5 736.5,235 738,233.5 739.5,237.5 741,236.5 743,235.5 744,243.5 745,241" fill="none" stroke="#000" stroke-width="1.8" stroke-linejoin="round"/>
</svg>
</body></html>
